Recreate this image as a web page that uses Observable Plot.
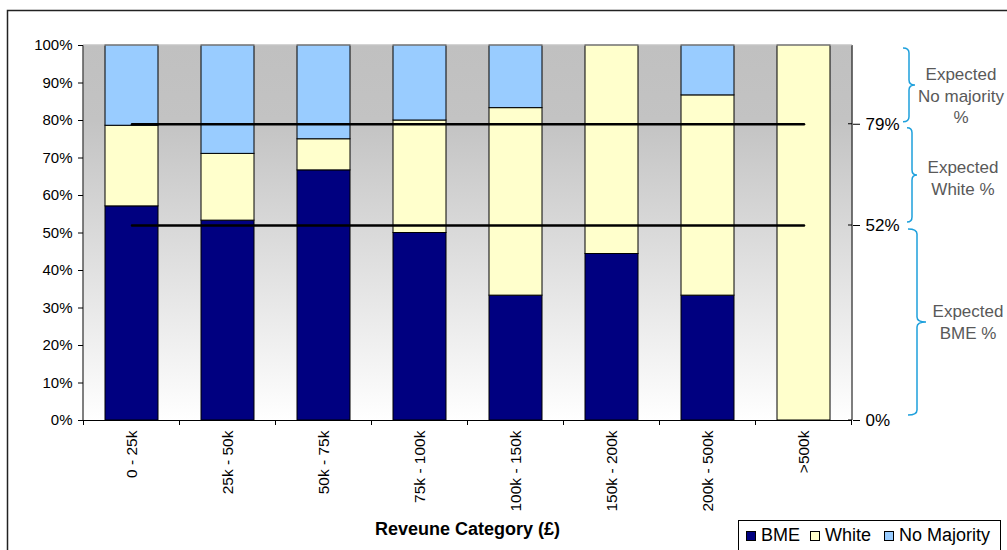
<!DOCTYPE html>
<html><head><meta charset="utf-8">
<script src="https://cdn.jsdelivr.net/npm/d3@7"></script>
<script src="https://cdn.jsdelivr.net/npm/@observablehq/plot@0.6"></script>
<style>body{margin:0;background:#fff;} svg{display:block}</style>
</head><body><div id="chart"></div>
<script>
// ---- data ----
const categories = ["0 - 25k","25k - 50k","50k - 75k","75k - 100k","100k - 150k","150k - 200k","200k - 500k",">500k"];
const seriesNames = ["BME","White","No Majority"];
const bme        = [57.1, 53.3, 66.7, 50.0, 33.3, 44.4, 33.3, 0];
const white      = [21.5, 17.8,  8.3, 30.0, 50.0, 55.6, 53.4, 100];
const noMajority = [21.4, 28.9, 25.0, 20.0, 16.7,  0.0, 13.3, 0];
const expectedLevels = [52, 79];
const leftTicks = [0,10,20,30,40,50,60,70,80,90,100];
const rightTicks = [0, 52, 79];
const seriesColors = ["#000080","#ffffcc","#99ccff"];
const braceRanges = [[100,79],[79,52],[52,0]];
const braceLabels = [["Expected","No majority","%"],["Expected","White %"],["Expected","BME %"]];
const xTitle = "Reveune Category (£)";

// ---- build ----
const seriesValues = [bme, white, noMajority];
const rows = [];
categories.forEach((c,i)=>seriesNames.forEach((s,j)=>{
  if (seriesValues[j][i] > 0) rows.push({cat:c, series:s, value:seriesValues[j][i]});
}));
const lineRows = expectedLevels.flatMap(v => categories.map(c => ({cat:c, level:v, key:"L"+v})));

const W=1007, H=550, mL=83, mR=155, mT=45, mB=130;
const font = "'Liberation Sans', Arial, sans-serif";
const chart = Plot.plot({
  width: W, height: H, marginLeft: mL, marginRight: mR, marginTop: mT, marginBottom: mB,
  style: {fontFamily: font, fontSize: "15px", color: "#000", background: "transparent", overflow: "visible"},
  x: {domain: categories, paddingInner: 0.45, paddingOuter: 0.225, label: null},
  y: {domain: [0,100], label: null},
  color: {domain: seriesNames, range: seriesColors},
  marks: [
    Plot.frame({fill: "url(#plotBg)", stroke: null}),
    Plot.barY(rows, Plot.stackY({x:"cat", y:"value", fill:"series", order: seriesNames, stroke:"#000", strokeWidth:1})),
    Plot.lineY(lineRows, {x:"cat", y:"level", z:"key", stroke:"#000", strokeWidth:2.5}),
    Plot.ruleY([0], {stroke:"#000"}),
    Plot.axisY({anchor:"left", ticks:leftTicks, tickFormat:d=>d+"%", tickSize:5, tickPadding:6, label:null}),
    Plot.axisY({anchor:"right", ticks:rightTicks, tickFormat:d=>d+"%", tickSize:7, tickPadding:6, fontSize:17, label:null}),
    Plot.axisX({tickSize:0, tickRotate:-90, tickPadding:10, fontSize:15.5, label:null})
  ]
});
document.getElementById("chart").appendChild(chart);

const svg = d3.select(chart);
svg.insert("defs", ":first-child").html(
  `<linearGradient id="plotBg" x1="0" y1="0" x2="0" y2="1">
     <stop offset="0" stop-color="#c0c0c0"/>
     <stop offset="0.2" stop-color="#c3c3c3"/>
     <stop offset="1" stop-color="#ffffff"/>
   </linearGradient>`);

const xs = chart.scale("x"), ys = chart.scale("y");
const y0 = ys.apply(0), y100 = ys.apply(100);
const g = svg.append("g").attr("text-anchor","start");
// axis lines
g.append("line").attr("x1", mL).attr("x2", mL).attr("y1", y100).attr("y2", y0).attr("stroke","#000");
g.append("line").attr("x1", W-mR).attr("x2", W-mR).attr("y1", y100).attr("y2", y0).attr("stroke","#000");
g.append("line").attr("x1", mL).attr("x2", W-mR).attr("y1", y100).attr("y2", y100).attr("stroke","#a8a8a8");
// inner part of right-axis ticks (they cross the axis line)
rightTicks.forEach(t => g.append("line").attr("x1", W-mR-4).attr("x2", W-mR).attr("y1", ys.apply(t)).attr("y2", ys.apply(t)).attr("stroke","#000"));
// x ticks at band boundaries
const off = (xs.step - xs.bandwidth)/2;
const bounds = categories.map(c => xs.apply(c) - off).concat([xs.apply(categories[categories.length-1]) + xs.bandwidth + off]);
bounds.forEach(b => g.append("line").attr("x1", b).attr("x2", b).attr("y1", y0).attr("y2", y0+5).attr("stroke","#000"));

// x title
g.append("text").attr("x", (mL + W - mR)/2).attr("y", 535).attr("text-anchor","middle")
  .attr("font-family", font).attr("font-weight","bold").attr("font-size","18px").text(xTitle);

// legend
const lg = g.append("g");
lg.append("rect").attr("x",738.5).attr("y",520.5).attr("width",262).attr("height",40).attr("fill","#fff").attr("stroke","#000");
const legX = [746, 810, 884];
seriesNames.forEach((s,i)=>{
  lg.append("rect").attr("x",legX[i]+0.5).attr("y",531.5).attr("width",9).attr("height",9)
    .attr("fill",seriesColors[i]).attr("stroke","#000");
  lg.append("text").attr("x",legX[i]+15).attr("y",541).attr("text-anchor","start")
    .attr("font-family",font).attr("font-size","18px").text(s);
});

// braces
const braceX = [[903,915],[907,917],[908,926]];
const inset = [[3,-2],[4,-3],[4,-5]];
const textCx = [961, 963, 968];
const textDy = [11, 3, 0];
braceRanges.forEach(([a,b],i)=>{
  const yA = ys.apply(a) + inset[i][0], yB = ys.apply(b) + inset[i][1];
  const x0 = braceX[i][0], xt = braceX[i][1], xm = (x0+xt)/2, ym = (yA+yB)/2, r = 5;
  const p = `M${x0},${yA} Q${xm},${yA} ${xm},${yA+r} L${xm},${ym-r} Q${xm},${ym} ${xt},${ym} Q${xm},${ym} ${xm},${ym+r} L${xm},${yB-r} Q${xm},${yB} ${x0},${yB}`;
  g.append("path").attr("d",p).attr("fill","none").attr("stroke","#1ea0dc").attr("stroke-width",1.5);
  const lines = braceLabels[i];
  const lh = 21.5;
  const top = ym + textDy[i] - (lines.length-1)*lh/2;
  lines.forEach((t,k)=>{
    g.append("text").attr("x",textCx[i]).attr("y", top + k*lh).attr("dy","0.35em").attr("text-anchor","middle")
      .attr("font-family",font).attr("font-size","17px").attr("fill","#595959").text(t);
  });
});

// outer chart border
g.append("rect").attr("x",7.5).attr("y",10.5).attr("width",1100).attr("height",700).attr("fill","none").attr("stroke","#222").attr("stroke-width",1.5);
</script>
</body></html>
